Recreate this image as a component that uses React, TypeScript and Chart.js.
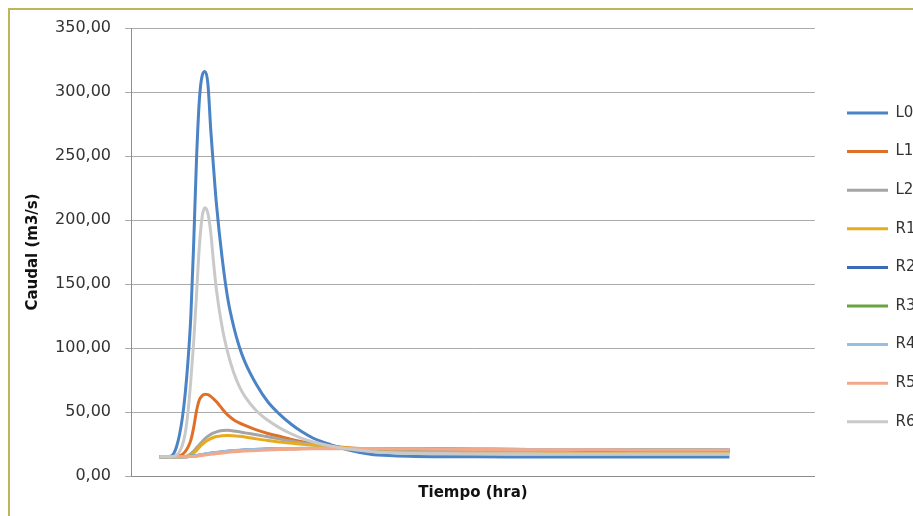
import { useEffect, useRef } from 'react';
import { Chart, registerables } from 'chart.js';

Chart.register(...registerables);

// Time axis (hours) shared by every series
const TIME = [5, 6, 7, 7.5, 8, 8.5, 9, 9.5, 10, 10.5, 11, 11.5, 12, 12.5, 13, 13.5, 14, 14.5, 15, 16, 17, 18, 19, 20, 22, 24, 26, 28, 30, 32, 35, 38, 42, 46, 50, 55, 60, 70, 80, 90, 105];

const SERIES_NAMES = ['L0', 'L1', 'L2', 'R1', 'R2', 'R3', 'R4', 'R5', 'R6'];

const L0 = [15, 15, 15.5, 17.5, 23, 32, 45, 64, 90, 125, 182, 248, 294, 313, 316, 306, 270, 240, 212, 170, 138, 117, 101, 89, 71.5, 58, 48.5, 40.8, 34.5, 29.5, 24.5, 20.5, 17, 15.8, 15.3, 15.1, 15, 14.9, 14.8, 14.8, 14.8];
const L1 = [15, 15, 15, 15, 15.2, 15.8, 16.8, 19, 22.5, 28, 38, 51, 59.5, 62.8, 63.8, 63.6, 62.2, 60.2, 58, 52.5, 47.5, 44, 41.5, 39.5, 36, 33.2, 31, 28.7, 26.8, 25.2, 23.5, 22, 21, 20.3, 19.8, 19.5, 19.4, 19.3, 19.2, 19.2, 19.2];
const L2 = [15, 15, 15, 15, 15, 15, 15, 15.3, 16, 17.5, 19.5, 22, 24.5, 27, 29.2, 31, 32.5, 33.6, 34.5, 35.5, 35.7, 35.2, 34.5, 33.7, 32.2, 30.6, 29, 27.3, 25.8, 24.5, 22.8, 21, 19.5, 18.5, 18, 17.7, 17.5, 17.5, 17.4, 17.4, 17.4];
const R1 = [15, 15, 15, 15, 15, 15, 15, 15.2, 15.6, 16.5, 18, 20, 22.5, 24.7, 26.5, 28, 29.2, 30.1, 30.8, 31.5, 31.7, 31.5, 31, 30.4, 29, 27.7, 26.6, 25.7, 24.8, 24, 22.9, 21.8, 20.6, 20, 19.6, 19.3, 19.2, 19.1, 19, 19, 19];
const R2 = [15, 15, 15, 15, 15, 15, 15, 15, 15.2, 15.4, 15.7, 16.0, 16.3, 16.7, 17.1, 17.4, 17.7, 18.0, 18.3, 18.8, 19.3, 19.7, 20.0, 20.3, 20.7, 21.0, 21.2, 21.4, 21.5, 21.5, 21.5, 21.4, 21.3, 21.2, 21.1, 21.0, 20.9, 20.7, 20.6, 20.5, 20.4];
const R3 = [15, 15, 15, 15, 15, 15, 15, 15, 15.2, 15.4, 15.6, 15.9, 16.2, 16.6, 17.0, 17.3, 17.6, 17.9, 18.2, 18.7, 19.2, 19.6, 19.9, 20.2, 20.6, 20.9, 21.1, 21.3, 21.4, 21.5, 21.5, 21.4, 21.3, 21.2, 21.1, 21.0, 20.9, 20.7, 20.6, 20.5, 20.4];
const R4 = [15, 15, 15, 15, 15, 15, 15, 15, 15.3, 15.5, 15.8, 16.1, 16.5, 16.9, 17.3, 17.6, 17.9, 18.2, 18.5, 19.0, 19.5, 19.9, 20.2, 20.5, 20.9, 21.2, 21.4, 21.5, 21.6, 21.6, 21.6, 21.5, 21.4, 21.3, 21.2, 21.1, 21.0, 20.8, 20.7, 20.6, 20.5];
const R5 = [15, 15, 15, 15, 15, 15, 15, 15, 15.1, 15.2, 15.3, 15.5, 15.8, 16.1, 16.4, 16.7, 17.0, 17.2, 17.5, 18.0, 18.5, 18.9, 19.2, 19.5, 20.0, 20.4, 20.7, 20.9, 21.1, 21.2, 21.3, 21.3, 21.2, 21.1, 21.0, 20.9, 20.8, 20.6, 20.5, 20.4, 20.3];
const R6 = [15, 15, 15, 15.3, 16.5, 19, 24, 33, 50, 75, 105, 142, 180, 203, 209.5, 205, 190, 166, 145, 116, 96, 81, 70, 62, 51, 43.5, 37.8, 33.2, 29.4, 26.6, 23.5, 21.3, 19.2, 18.2, 17.8, 17.5, 17.4, 17.3, 17.2, 17.2, 17.2];

const COLORS = ['#4A84C4', '#E07028', '#A5A5A5', '#E8AB1E', '#3C6BB5', '#6AA343', '#98BEE4', '#F2A88A', '#C9C9C9'];

const Y_MIN = 0;
const Y_MAX = 350;
const Y_STEP = 50;
const X_MIN = 0;
const X_MAX = 120;

const FONT = 'DejaVu Sans';
const GRID_COLOR = '#ABABAB';
const AXIS_COLOR = '#8E8E8E';

// legend placement (canvas px)
const LEGEND_LINE_X = 837;
const LEGEND_FIRST_Y = 103;

const legendPlacer = {
  id: 'legendPlacer',
  afterLayout(chart: any) {
    const lg: any = chart.legend;
    if (!lg || !lg.columnSizes || !lg.columnSizes.length) return;
    const p = lg.options.labels.padding;
    const fs = lg.options.labels.font.size;
    const x0 = lg.left + p;
    const y0 = (lg.top + p + lg.bottom - lg.columnSizes[0].height) / 2 + fs / 2;
    const dx = LEGEND_LINE_X - x0;
    const dy = LEGEND_FIRST_Y - y0;
    lg.left += dx;
    lg.right += dx;
    lg.top += dy;
    lg.bottom += dy;
  },
};

export default function App() {
  const ref = useRef<HTMLCanvasElement>(null);

  useEffect(() => {
    const canvas = ref.current;
    if (!canvas) return;
    const series = [L0, L1, L2, R1, R2, R3, R4, R5, R6];
    const chart = new Chart(canvas, {
      type: 'line',
      data: {
        datasets: series.map((vals, i) => ({
          label: SERIES_NAMES[i],
          data: vals.map((v, j) => ({ x: TIME[j], y: v })),
          borderColor: COLORS[i],
          backgroundColor: COLORS[i],
          borderWidth: 3,
          pointRadius: 0,
          pointHoverRadius: 0,
          fill: false,
          cubicInterpolationMode: 'monotone' as const,
          order: series.length - i,
        })),
      },
      options: {
        animation: false,
        responsive: false,
        layout: { padding: { top: 18, left: 0, right: 0, bottom: 0 } },
        scales: {
          x: {
            type: 'linear',
            min: X_MIN,
            max: X_MAX,
            ticks: { display: false },
            grid: { display: false },
            border: { display: true, color: AXIS_COLOR, width: 1 },
            title: {
              display: true,
              text: 'Tiempo (hra)',
              color: '#111111',
              font: { family: FONT, size: 15, weight: 'bold' },
              padding: { top: 0, bottom: 14 },
            },
            afterFit: (s: any) => {
              s.height = 40;
              s.paddingLeft = 0;
              s.paddingRight = 0;
            },
          },
          y: {
            min: Y_MIN,
            max: Y_MAX,
            ticks: {
              stepSize: Y_STEP,
              padding: 14,
              color: '#333333',
              font: { family: FONT, size: 16 },
              callback: (v: any) => Number(v).toFixed(2).replace('.', ','),
            },
            grid: { color: GRID_COLOR, lineWidth: 1, drawTicks: true, tickLength: 6 },
            border: { display: true, color: AXIS_COLOR, width: 1 },
            title: {
              display: true,
              text: 'Caudal (m3/s)',
              color: '#111111',
              font: { family: FONT, size: 15, weight: 'bold' },
              padding: { top: 14, bottom: 0 },
            },
            afterFit: (s: any) => {
              s.width = 121;
              s.paddingTop = 0;
              s.paddingBottom = 0;
            },
          },
        },
        plugins: {
          legend: {
            position: 'right',
            labels: {
              usePointStyle: true,
              pointStyle: 'line',
              pointStyleWidth: 41,
              padding: 23.6,
              color: '#333333',
              font: { family: FONT, size: 15 },
              sort: (a: any, b: any) => a.datasetIndex - b.datasetIndex,
            },
          },
          tooltip: { enabled: false },
        },
      } as any,
      plugins: [legendPlacer],
    });
    return () => chart.destroy();
  }, []);

  return (
    <div
      style={{
        position: 'fixed',
        left: 8,
        top: 8,
        width: 940,
        height: 540,
        borderLeft: '2px solid #BFB65C',
        borderTop: '2px solid #BFB65C',
        background: '#fff',
      }}
    >
      <canvas ref={ref} width={907} height={506} style={{ display: 'block', width: 907, height: 506 }} />
    </div>
  );
}
